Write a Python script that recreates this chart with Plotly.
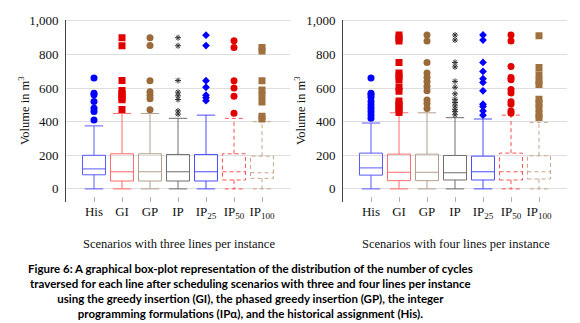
import plotly.graph_objects as go

OFF = 8  # page body margin of the browser
W, H = 580 - OFF, 323 - OFF


def px_x(p):
    return (p - OFF) / W


def px_y(p):
    return 1 - (p - OFF) / H


categories = ["His", "GI", "GP", "IP", "IP25", "IP50", "IP100"]
tick_labels = ["His", "GI", "GP", "IP", "IP<sub>25</sub>", "IP<sub>50</sub>", "IP<sub>100</sub>"]
y_ticks = [0, 200, 400, 600, 800, 1000]
y_tick_labels = ["0", "200", "400", "600", "800", "1,000"]

# ---- three lines per instance ----
three_lower = [0, 0, 0, 0, 0, 0, 0]
three_q1 = [84, 47, 47, 47, 47, 53, 63]
three_median = [119, 102, 102, 102, 102, 102, 96]
three_q3 = [200, 209, 209, 205, 205, 209, 195]
three_upper = [375, 449, 449, 420, 439, 420, 400]
three_outliers = [
    [660, 570, 560, 520, 480, 460, 410],
    [900, 852, 645, 585, 570, 555, 540, 530, 472],
    [900, 853, 644, 578, 558, 537, 471],
    [900, 852, 645, 576, 554, 532, 464, 445],
    [915, 853, 644, 605, 558, 543, 525],
    [882, 841, 644, 601, 552, 451],
    [841, 821, 644, 588, 556, 517, 432, 416],
]

# ---- four lines per instance ----
four_lower = [0, 0, 0, 0, 0, 0, 0]
four_q1 = [82, 49, 49, 53, 53, 53, 59]
four_median = [125, 99, 99, 96, 102, 102, 102]
four_q3 = [213, 207, 207, 199, 195, 213, 197]
four_upper = [392, 453, 453, 424, 416, 439, 396]
four_outliers = [
    [660, 570, 560, 545, 520, 500, 480, 460, 440, 420],
    [916, 898, 880, 753, 690, 670, 650, 607, 582, 523, 504, 490, 474, 455],
    [916, 881, 753, 690, 663, 640, 611, 584, 529, 508, 479],
    [916, 886, 753, 726, 640, 605, 566, 533, 514, 494, 474, 460, 441],
    [916, 886, 753, 699, 656, 634, 584, 504, 490, 464, 439],
    [916, 881, 728, 663, 650, 591, 571, 519, 504, 464, 451],
    [912, 722, 680, 644, 621, 533, 509, 480, 445, 425],
]

box_colors = ["#5a5aff", "#ff6b6b", "#b39e8c", "#6e6e6e", "#4b4bff", "#ff5050", "#c9a488"]
dashed = [False, False, False, False, False, True, True]
marker_colors = ["#0000ff", "#e00000", "#9a6a3a", "#333333", "#0000ff", "#e00000", "#a0703e"]
marker_symbols = ["circle", "square", "circle", "asterisk-open", "diamond", "circle", "square"]
marker_sizes = [7, 7, 7, 5, 6, 7, 7]

BOX_W = 0.82
CAP_W = 0.8

fig = go.Figure()


def add_panel(xa, ya, lower, q1, med, q3, upper, outliers):
    for i in range(len(categories)):
        xpos = i + 1
        if not dashed[i]:
            fig.add_trace(go.Box(
                x=[xpos], q1=[q1[i]], median=[med[i]], q3=[q3[i]],
                lowerfence=[lower[i]], upperfence=[upper[i]],
                width=BOX_W, whiskerwidth=CAP_W,
                fillcolor="rgba(0,0,0,0)",
                line=dict(color=box_colors[i], width=1),
                xaxis=xa, yaxis=ya, showlegend=False, hoverinfo="skip",
            ))
        else:
            l, r = xpos - BOX_W / 2, xpos + BOX_W / 2
            cl, cr = xpos - BOX_W * CAP_W / 2, xpos + BOX_W * CAP_W / 2
            xs = [l, r, r, l, l, None, l, r, None,
                  xpos, xpos, None, xpos, xpos, None, cl, cr, None, cl, cr]
            ys = [q1[i], q1[i], q3[i], q3[i], q1[i], None, med[i], med[i], None,
                  q3[i], upper[i], None, q1[i], lower[i], None, upper[i], upper[i], None, lower[i], lower[i]]
            fig.add_trace(go.Scatter(
                x=xs, y=ys, mode="lines",
                line=dict(color=box_colors[i], width=1, dash="4px,3px"),
                xaxis=xa, yaxis=ya, showlegend=False, hoverinfo="skip",
            ))
        sym = marker_symbols[i]
        mk = dict(symbol=sym, size=marker_sizes[i], color=marker_colors[i])
        if sym == "asterisk-open":
            mk["line"] = dict(color=marker_colors[i], width=1)
        fig.add_trace(go.Scatter(
            x=[xpos] * len(outliers[i]), y=outliers[i], mode="markers",
            marker=mk, xaxis=xa, yaxis=ya, showlegend=False, hoverinfo="skip",
        ))


add_panel("x", "y", three_lower, three_q1, three_median, three_q3, three_upper, three_outliers)
add_panel("x2", "y2", four_lower, four_q1, four_median, four_q3, four_upper, four_outliers)

serif = "Liberation Serif"
ydom = [px_y(200), px_y(14.0)]

xcommon = dict(
    range=[0, 8], showgrid=False, zeroline=False, showline=False,
    tickmode="array", tickvals=list(range(1, 8)), ticktext=tick_labels,
    ticks="inside", ticklen=5, tickcolor="#b0b0b0",
    tickfont=dict(family=serif, size=13, color="#111"),
)
ycommon = dict(
    range=[-80, 1006], domain=ydom, showgrid=True, gridcolor="#dedede", gridwidth=1,
    zeroline=False, showline=True, linecolor="#444", linewidth=1,
    tickmode="array", tickvals=y_ticks, ticktext=y_tick_labels, ticks="",
    tickfont=dict(family=serif, size=13, color="#111"), ticklabelstandoff=4,
    ticklabeloverflow="allow",
)

fig.update_layout(
    width=W, height=H, autosize=False,
    margin=dict(l=0, r=0, t=0, b=0),
    paper_bgcolor="white", plot_bgcolor="white",
    xaxis=dict(domain=[px_x(66), px_x(290)], anchor="y", **xcommon),
    yaxis=dict(anchor="x", **ycommon),
    xaxis2=dict(domain=[px_x(343), px_x(567)], anchor="y2", **xcommon),
    yaxis2=dict(anchor="x2", **ycommon),
)

annots = [
    dict(x=px_x(179), y=px_y(242), text="Scenarios with three lines per instance",
         textangle=0, font=dict(family=serif, size=12.5, color="#111")),
    dict(x=px_x(456), y=px_y(242), text="Scenarios with four lines per instance",
         textangle=0, font=dict(family=serif, size=12.5, color="#111")),
    dict(x=px_x(24), y=px_y(107), text="Volume in m<sup>3</sup>", textangle=-90,
         font=dict(family=serif, size=12.5, color="#111")),
    dict(x=px_x(300), y=px_y(107), text="Volume in m<sup>3</sup>", textangle=-90,
         font=dict(family=serif, size=12.5, color="#111")),
    dict(x=px_x(250), y=px_y(290),
         text=("<b>Figure 6: A graphical box-plot representation of the distribution of the number of cycles<br>"
               "traversed for each line after scheduling scenarios with three and four lines per instance<br>"
               "using the greedy insertion (GI), the phased greedy insertion (GP), the integer<br>"
               "programming formulations (IP\u03b1), and the historical assignment (His).</b>"),
         align="center", font=dict(family="Lato", size=11.5, color="#000")),
]
for a in annots:
    a.update(xref="paper", yref="paper", showarrow=False, xanchor="center", yanchor="middle")
    fig.add_annotation(**a)

fig.write_html("out.html")
